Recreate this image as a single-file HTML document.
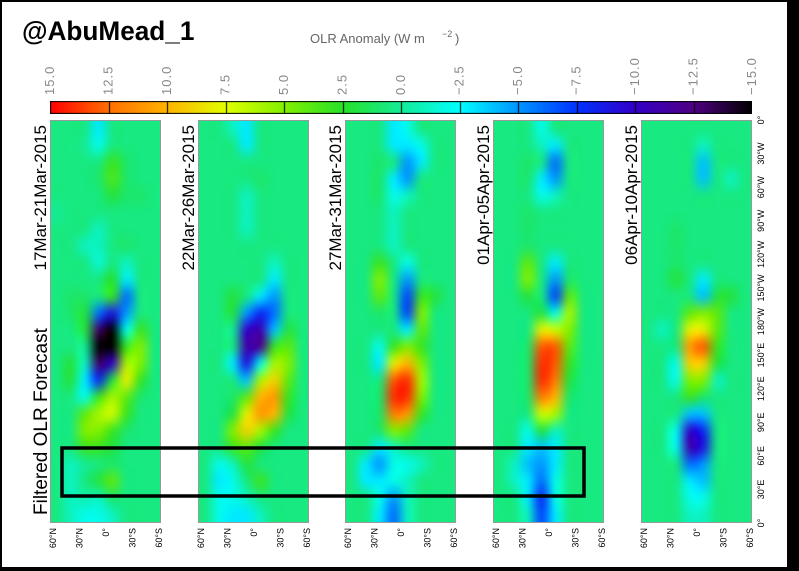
<!DOCTYPE html>
<html><head><meta charset="utf-8"><style>
html,body{margin:0;padding:0;background:#000}
#wrap{position:relative;width:799px;height:571px;background:#000;overflow:hidden}
#inner{position:absolute;left:2px;top:2px;width:785px;height:565px;background:#fff}
canvas{position:absolute}
svg{position:absolute;left:0;top:0}
text{font-family:"Liberation Sans",sans-serif}
</style></head><body>
<div id="wrap">
<div id="inner"></div>
<svg id="svg" width="799" height="571"></svg>
</div>
<script>
const panelTitles=["17Mar-21Mar-2015","22Mar-26Mar-2015","27Mar-31Mar-2015","01Apr-05Apr-2015","06Apr-10Apr-2015"];
const latLabels=["60°N","30°N","0°","30°S","60°S"];
const lonLabels=["0°","30°W","60°W","90°W","120°W","150°W","180°W","150°E","120°E","90°E","60°E","30°E","0°"];
const cbarLabels=["15.0","12.5","10.0","7.5","5.0","2.5","0.0","−2.5","−5.0","−7.5","−10.0","−12.5","−15.0"];
const cbarValues=[15,12.5,10,7.5,5,2.5,0,-2.5,-5,-7.5,-10,-12.5,-15];
const panel1=[
[.5,.5,.5,-3,.5,.5,.5,.5],[.5,.5,0,-2,.5,.5,.5,.5],[.5,.5,.5,.5,3,1,.5,.5],[.5,.5,.5,1,3.5,1,.5,.5],
[.5,.5,.5,.5,2,1,1,.5],[0,.5,.5,.5,.5,.5,.5,.5],[.5,.5,.5,-1,.5,.5,.5,.5],[.5,.5,-1,-1,.5,1,.5,.5],
[.5,.5,.5,-1.5,.5,-1,.5,.5],[.5,.5,.5,.5,2.5,-3,.5,.5],[.5,1,1,.5,3,-6,.5,.5],[.5,1,2,-6,-9,-5,.5,.5],
[.5,.5,2,-13,-15,-2,3,.5],[.5,.5,0,-15,-15,3,5,.5],[.5,2,-1,-13,-10,6,5,.5],[.5,2,-3,-8,2,8,3,.5],
[.5,.5,-2,3,6,4,1,.5],[.5,.5,4,6,7,3,.5,.5],[.5,.5,5,5,3,1,.5,.5],[.5,.5,3,3,2,.5,.5,.5],
[.5,-1,0,.5,1,.5,.5,.5],[.5,-1,.5,2,4,.5,.5,.5],[.5,-1,-.5,-1,1,.5,.5,.5],[.5,-1,-2,-2,-1,.5,.5,.5]];
const panel2=[
[.5,.5,-1,-3,.5,.5,.5,.5],[.5,.5,.5,-3,.5,.5,.5,.5],[.5,.5,.5,.5,.5,.5,.5,.5],[.5,.5,.5,.5,1,.5,.5,.5],
[.5,.5,.5,-1,.5,.5,.5,.5],[.5,.5,.5,-1,.5,.5,.5,.5],[.5,.5,.5,-1,.5,.5,.5,.5],[.5,.5,.5,.5,.5,.5,.5,.5],
[.5,.5,.5,.5,.5,-1,.5,.5],[.5,.5,.5,.5,.5,-3,.5,.5],[.5,.5,2,.5,-3,-5,.5,.5],[.5,.5,2,-5,-8,-6,.5,.5],
[.5,.5,0,-10,-11,-4,2,.5],[.5,.5,.5,-11,-12,3,4,.5],[.5,.5,-3,-9,-2,6,5,.5],[.5,.5,.5,-4,6,9,4,.5],
[.5,.5,1,4,10,11,3,.5],[.5,.5,2,8,11,10,2,.5],[.5,.5,5,9,6,3,.5,.5],[.5,.5,3,4,2,.5,.5,.5],
[.5,-2,-1,2,.5,.5,.5,.5],[.5,-3,-2,.5,3,.5,.5,.5],[.5,-2,-2,-1,.5,.5,.5,.5],[.5,-2,-3,-3,-1,.5,.5,.5]];
const panel3=[
[.5,.5,.5,-3,-2,.5,.5,.5],[.5,.5,.5,-3,-3,-2,.5,.5],[.5,.5,1,.5,-5,-3,.5,.5],[.5,.5,1,-3,-5,.5,.5,.5],
[.5,.5,1,-2,-1,.5,.5,.5],[.5,.5,.5,-1,.5,.5,.5,.5],[.5,.5,.5,-1,.5,.5,.5,.5],[.5,.5,.5,-1,.5,.5,.5,.5],
[.5,.5,3,.5,-2,.5,.5,.5],[.5,.5,5,.5,-5,.5,.5,.5],[.5,.5,4,.5,-7,3,2,.5],[.5,.5,1,.5,-7,5,.5,.5],
[.5,.5,.5,.5,-3,4,.5,.5],[.5,.5,-2,3,5,3,.5,.5],[.5,.5,-3,8,10,5,.5,.5],[.5,.5,.5,13,14,6,.5,.5],
[.5,.5,1,14,14,5,.5,.5],[.5,.5,1,12,11,3,.5,.5],[.5,.5,1,5,4,.5,.5,.5],[.5,.5,-3,-1,.5,.5,.5,.5],
[.5,-3,-5,-2,-2,-1,.5,.5],[.5,-3,-3,-2,-1,.5,.5,.5],[.5,.5,-2,-5,-1,.5,.5,.5],[.5,.5,-3,-6,-1,.5,.5,.5]];
const panel4=[
[.5,.5,.5,-2,.5,.5,.5,.5],[.5,.5,.5,-1,-3,.5,.5,.5],[.5,.5,1,.5,-6,.5,.5,.5],[.5,.5,1,-3,-5,.5,.5,.5],
[.5,.5,.5,-2,-1,.5,.5,.5],[.5,.5,1,.5,.5,.5,.5,.5],[.5,.5,1,.5,.5,.5,.5,.5],[.5,.5,1,.5,.5,.5,.5,.5],
[.5,.5,4,.5,-3,.5,.5,.5],[.5,.5,5,.5,-5,1,.5,.5],[.5,.5,2,.5,-7,4,.5,.5],[.5,.5,.5,2,-2,6,.5,.5],
[.5,.5,.5,8,7,5,.5,.5],[.5,.5,1,13,13,4,.5,.5],[.5,.5,1,14,13,3,.5,.5],[.5,.5,1,14,12,2,.5,.5],
[.5,.5,1,12,10,1,.5,.5],[.5,.5,.5,7,6,.5,.5,.5],[.5,.5,-2,2,-1,.5,.5,.5],[.5,.5,-3,-4,-3,.5,.5,.5],
[.5,-1,-4,-5,-3,.5,.5,.5],[.5,-1,-3,-6,-2,.5,.5,.5],[.5,.5,-3,-8,-2,.5,.5,.5],[.5,.5,-1,-7,-3,.5,.5,.5]];
const panel5=[
[.5,.5,.5,.5,.5,.5,.5,.5],[.5,.5,.5,.5,-1,.5,.5,.5],[.5,.5,.5,.5,-4,.5,.5,.5],[.5,.5,.5,.5,-4,.5,-1,.5],
[.5,.5,.5,.5,.5,.5,.5,.5],[.5,.5,.5,.5,.5,.5,.5,.5],[.5,.5,1,.5,.5,.5,.5,.5],[.5,.5,1,.5,.5,.5,.5,.5],
[.5,.5,1,.5,.5,.5,.5,.5],[.5,.5,2,.5,-3,.5,.5,.5],[.5,.5,.5,.5,-4,2,2,.5],[.5,.5,.5,4,5,4,.5,.5],
[.5,-1,.5,8,8,4,.5,.5],[.5,.5,.5,11,13,3,.5,.5],[.5,.5,-2,9,9,2,.5,.5],[.5,.5,-2,5,5,-1,.5,.5],
[.5,.5,.5,3,1,.5,.5,.5],[.5,.5,.5,-4,-4,.5,.5,.5],[.5,.5,-2,-10,-8,.5,.5,.5],[.5,.5,-2,-11,-9,.5,.5,.5],
[.5,.5,.5,-6,-5,.5,.5,.5],[.5,.5,.5,-3,-4,.5,.5,.5],[.5,.5,.5,-2,-2,.5,.5,.5],[.5,.5,.5,-1,-1,.5,.5,.5]];
const panels=[panel1,panel2,panel3,panel4,panel5];

const panelX=[50,198,345,493,641], panelW=111, panelTop=120, panelH=403;
const stops=[[15,[255,0,0]],[12.5,[255,110,0]],[10,[255,180,0]],[7.5,[225,255,0]],[5,[130,240,0]],[2.5,[40,225,40]],[0,[20,235,150]],[-2.5,[0,255,255]],[-5,[0,150,255]],[-7.5,[0,50,255]],[-10,[50,0,200]],[-12.5,[80,0,130]],[-15,[0,0,0]]];
function color(v){
  v=Math.max(-15,Math.min(15,v));
  for(let i=0;i<stops.length-1;i++){
    const a=stops[i],b=stops[i+1];
    if(v<=a[0]&&v>=b[0]){const t=(a[0]-v)/(a[0]-b[0]);return a[1].map((c,k)=>Math.round(c+(b[1][k]-c)*t));}
  }
  return [0,0,0];
}
const wrap=document.getElementById('wrap');
const NS="http://www.w3.org/2000/svg";
const svg=document.getElementById('svg');
function txt(s,x,y,opt){
  const t=document.createElementNS(NS,'text');
  t.textContent=s;t.setAttribute('x',x);t.setAttribute('y',y);
  for(const k in opt){if(k!=='name')t.setAttribute(k,opt[k]);}
  
  
  svg.appendChild(t);return t;
}
panels.forEach((g,p)=>{
  const rows=g.length, cols=g[0].length;
  const small=document.createElement('canvas');small.width=cols;small.height=rows;
  const sc=small.getContext('2d');const img=sc.createImageData(cols,rows);
  for(let r=0;r<rows;r++)for(let c=0;c<cols;c++){
    const col=color(g[r][c]);const i=(r*cols+c)*4;
    img.data[i]=col[0];img.data[i+1]=col[1];img.data[i+2]=col[2];img.data[i+3]=255;
  }
  sc.putImageData(img,0,0);
  const cv=document.createElement('canvas');cv.width=panelW;cv.height=panelH;
  cv.style.left=panelX[p]+'px';cv.style.top=panelTop+'px';
  
  
  const ctx=cv.getContext('2d');ctx.imageSmoothingEnabled=true;ctx.imageSmoothingQuality='high';
  ctx.drawImage(small,0,0,cols,rows,0,0,panelW,panelH);
  wrap.insertBefore(cv,svg);
});
const cbX=50,cbW=702,cbY=101,cbH=13;
const cb=document.createElement('canvas');cb.width=cbW;cb.height=cbH;cb.style.left=cbX+'px';cb.style.top=cbY+'px';


const cbc=cb.getContext('2d');
for(let x=0;x<cbW;x++){const v=15-30*(x+0.5)/cbW;const c=color(v);cbc.fillStyle=`rgb(${c[0]},${c[1]},${c[2]})`;cbc.fillRect(x,0,1,cbH);}
cbc.strokeStyle='#000';cbc.lineWidth=1;cbc.strokeRect(0.5,0.5,cbW-1,cbH-1);
for(let i=1;i<12;i++){const x=Math.round(cbW*i/12)+0.5;cbc.beginPath();cbc.moveTo(x,0);cbc.lineTo(x,cbH);cbc.stroke();}
wrap.insertBefore(cb,svg);
cbarLabels.forEach((s,i)=>{
  const x=cbX+cbW*(15-cbarValues[i])/30+4;
  txt(s,x,95,{transform:`rotate(-90 ${x} 95)`,'font-size':13,fill:'#888','text-anchor':'start','letter-spacing':'1',name:'colorbar-label'});
});
txt("@AbuMead_1",22,40,{'font-size':27,'font-weight':'bold',fill:'#000',transform:'translate(22 0) scale(0.97 1) translate(-22 0)',name:'watermark-title'});
txt("OLR Anomaly (W m ",310,43,{'font-size':13,fill:'#666',name:'colorbar-title'});
txt("−2",442,37,{'font-size':9,fill:'#666',name:'colorbar-title-exponent'});
txt(")",455,43,{'font-size':13,fill:'#666',name:'colorbar-title-paren'});
const titleX=[46,194,341,489,637];
panelTitles.forEach((s,i)=>{
  txt(s,titleX[i],125,{transform:`rotate(-90 ${titleX[i]} 125)`,'font-size':17,fill:'#000','text-anchor':'end',name:'panel-date-label'});
});
txt("Filtered OLR  Forecast",47,515,{transform:'rotate(-90 47 515)','font-size':19,fill:'#000','text-anchor':'start',name:'forecast-title'});
panelX.forEach(px=>{
  latLabels.forEach((s,j)=>{
    const x=px+3+j*26.5+3;
    txt(s,x,528,{transform:`rotate(-90 ${x} 528)`,'font-size':9,fill:'#000','text-anchor':'end',name:'latitude-tick-label'});
  });
});
lonLabels.forEach((s,i)=>{
  const y=panelTop+panelH*i/12;
  txt(s,764,y,{transform:`rotate(-90 764 ${y})`,'font-size':9,fill:'#000','text-anchor':'middle',name:'longitude-tick-label'});
});
panelX.forEach(px=>{
  const r=document.createElementNS(NS,'rect');
  r.setAttribute('x',px+0.5);r.setAttribute('y',panelTop+0.5);r.setAttribute('width',panelW-1);r.setAttribute('height',panelH-1);
  r.setAttribute('fill','none');r.setAttribute('stroke','#999');r.setAttribute('stroke-width','1');
  
  
  svg.appendChild(r);
});
const box=document.createElementNS(NS,'rect');
box.setAttribute('x',62);box.setAttribute('y',448);box.setAttribute('width',522);box.setAttribute('height',48);
box.setAttribute('fill','none');box.setAttribute('stroke','#000');box.setAttribute('stroke-width','3.5');


svg.appendChild(box);
</script>
</body></html>
